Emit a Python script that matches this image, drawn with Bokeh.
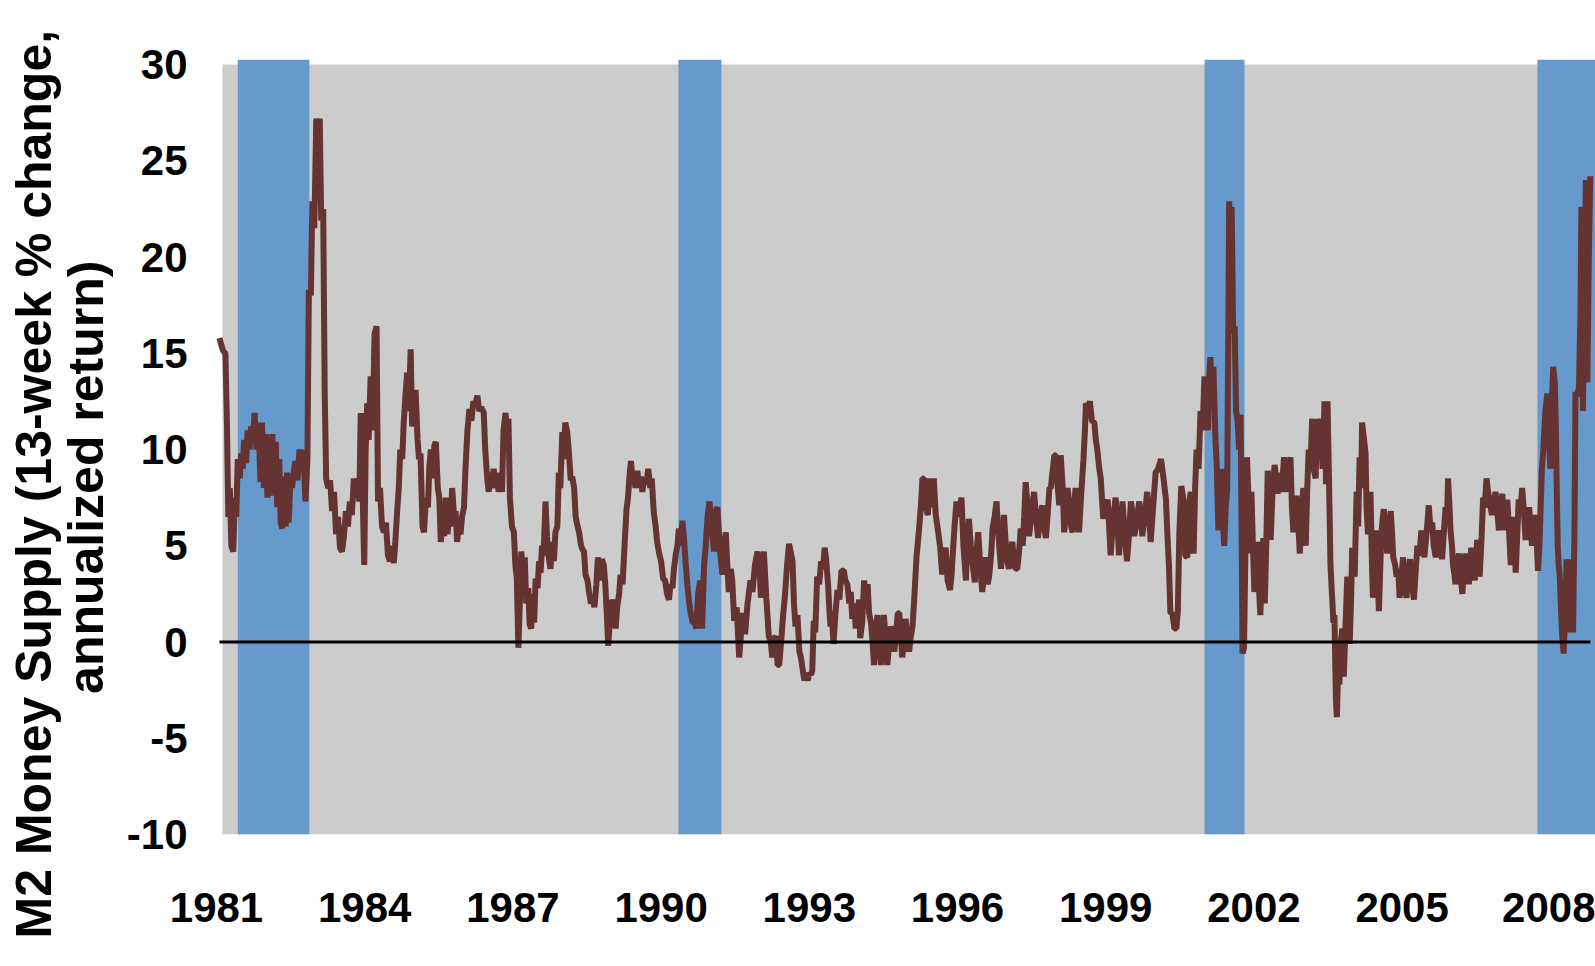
from bokeh.plotting import figure
from bokeh.models import FixedTicker
from bokeh.embed import file_html
from bokeh.resources import INLINE

# ---- data (weekly M2 13-week % change, annualized) ----
week = [
    1981.06, 1981.10, 1981.14, 1981.18, 1981.21, 1981.24, 1981.27, 1981.30, 1981.34, 1981.37,
    1981.40, 1981.43, 1981.47, 1981.50, 1981.53, 1981.56, 1981.60, 1981.63, 1981.67, 1981.70,
    1981.74, 1981.77, 1981.81, 1981.85, 1981.89, 1981.92, 1981.96, 1982.00, 1982.03, 1982.06,
    1982.10, 1982.13, 1982.17, 1982.20, 1982.23, 1982.27, 1982.30, 1982.33, 1982.36, 1982.40,
    1982.43, 1982.46, 1982.50, 1982.53, 1982.57, 1982.60, 1982.64, 1982.68, 1982.72, 1982.76,
    1982.80, 1982.84, 1982.87, 1982.91, 1982.94, 1982.98, 1983.02, 1983.06, 1983.09, 1983.12,
    1983.16, 1983.19, 1983.22, 1983.26, 1983.30, 1983.34, 1983.38, 1983.42, 1983.46, 1983.50,
    1983.54, 1983.58, 1983.62, 1983.66, 1983.70, 1983.74, 1983.78, 1983.82, 1983.86, 1983.89,
    1983.92, 1983.96, 1983.99, 1984.02, 1984.05, 1984.08, 1984.12, 1984.16, 1984.20, 1984.24,
    1984.27, 1984.31, 1984.35, 1984.39, 1984.43, 1984.47, 1984.51, 1984.55, 1984.59, 1984.62,
    1984.66, 1984.69, 1984.72, 1984.76, 1984.79, 1984.83, 1984.86, 1984.89, 1984.93, 1984.96,
    1985.00, 1985.03, 1985.07, 1985.10, 1985.13, 1985.17, 1985.20, 1985.24, 1985.28, 1985.31,
    1985.34, 1985.38, 1985.41, 1985.44, 1985.48, 1985.51, 1985.54, 1985.58, 1985.61, 1985.64,
    1985.68, 1985.71, 1985.74, 1985.77, 1985.81, 1985.84, 1985.87, 1985.90, 1985.94, 1985.97,
    1986.01, 1986.04, 1986.08, 1986.12, 1986.16, 1986.20, 1986.24, 1986.28, 1986.32, 1986.36,
    1986.41, 1986.44, 1986.48, 1986.51, 1986.54, 1986.58, 1986.61, 1986.64, 1986.68, 1986.71,
    1986.75, 1986.78, 1986.81, 1986.85, 1986.88, 1986.91, 1986.94, 1986.98, 1987.02, 1987.05,
    1987.08, 1987.11, 1987.14, 1987.17, 1987.20, 1987.24, 1987.27, 1987.31, 1987.34, 1987.37,
    1987.40, 1987.43, 1987.46, 1987.50, 1987.53, 1987.56, 1987.59, 1987.62, 1987.66, 1987.69,
    1987.72, 1987.76, 1987.79, 1987.83, 1987.86, 1987.90, 1987.93, 1987.96, 1988.00, 1988.03,
    1988.06, 1988.10, 1988.13, 1988.17, 1988.20, 1988.24, 1988.27, 1988.31, 1988.34, 1988.38,
    1988.41, 1988.44, 1988.47, 1988.51, 1988.54, 1988.58, 1988.62, 1988.65, 1988.69, 1988.72,
    1988.76, 1988.80, 1988.84, 1988.87, 1988.90, 1988.93, 1988.96, 1988.99, 1989.02, 1989.05,
    1989.08, 1989.11, 1989.15, 1989.18, 1989.22, 1989.26, 1989.30, 1989.33, 1989.36, 1989.39,
    1989.42, 1989.45, 1989.48, 1989.52, 1989.55, 1989.59, 1989.62, 1989.66, 1989.70, 1989.74,
    1989.78, 1989.81, 1989.85, 1989.89, 1989.92, 1989.96, 1990.00, 1990.04, 1990.08, 1990.12,
    1990.16, 1990.19, 1990.23, 1990.26, 1990.30, 1990.33, 1990.36, 1990.40, 1990.43, 1990.46,
    1990.50, 1990.53, 1990.57, 1990.60, 1990.64, 1990.68, 1990.71, 1990.75, 1990.79, 1990.83,
    1990.87, 1990.90, 1990.94, 1990.98, 1991.02, 1991.07, 1991.10, 1991.14, 1991.19, 1991.24,
    1991.28, 1991.31, 1991.34, 1991.37, 1991.41, 1991.44, 1991.48, 1991.53, 1991.58, 1991.62,
    1991.66, 1991.70, 1991.75, 1991.81, 1991.85, 1991.90, 1991.95, 1992.00, 1992.02, 1992.05,
    1992.08, 1992.13, 1992.18, 1992.22, 1992.25, 1992.29, 1992.32, 1992.36, 1992.39, 1992.43,
    1992.47, 1992.51, 1992.55, 1992.59, 1992.63, 1992.66, 1992.69, 1992.72, 1992.76, 1992.80,
    1992.83, 1992.87, 1992.90, 1992.93, 1992.97, 1993.00, 1993.03, 1993.06, 1993.09, 1993.12,
    1993.16, 1993.20, 1993.24, 1993.28, 1993.31, 1993.34, 1993.38, 1993.41, 1993.43, 1993.46,
    1993.49, 1993.53, 1993.57, 1993.61, 1993.65, 1993.70, 1993.73, 1993.77, 1993.81, 1993.84,
    1993.87, 1993.91, 1993.94, 1993.97, 1994.01, 1994.03, 1994.07, 1994.11, 1994.15, 1994.18,
    1994.21, 1994.25, 1994.28, 1994.31, 1994.34, 1994.38, 1994.41, 1994.45, 1994.48, 1994.51,
    1994.55, 1994.58, 1994.62, 1994.65, 1994.69, 1994.72, 1994.76, 1994.79, 1994.82, 1994.85,
    1994.88, 1994.92, 1994.95, 1994.98, 1995.02, 1995.05, 1995.09, 1995.13, 1995.17, 1995.21,
    1995.26, 1995.29, 1995.32, 1995.36, 1995.40, 1995.44, 1995.48, 1995.52, 1995.56, 1995.61,
    1995.65, 1995.69, 1995.72, 1995.76, 1995.80, 1995.85, 1995.88, 1995.90, 1995.94, 1995.98,
    1996.02, 1996.05, 1996.08, 1996.12, 1996.17, 1996.20, 1996.23, 1996.27, 1996.31, 1996.35,
    1996.38, 1996.42, 1996.46, 1996.50, 1996.54, 1996.57, 1996.61, 1996.64, 1996.68, 1996.71,
    1996.75, 1996.79, 1996.83, 1996.88, 1996.91, 1996.94, 1996.98, 1997.01, 1997.04, 1997.08,
    1997.11, 1997.15, 1997.18, 1997.21, 1997.25, 1997.28, 1997.32, 1997.35, 1997.38, 1997.42,
    1997.45, 1997.49, 1997.52, 1997.55, 1997.59, 1997.63, 1997.67, 1997.72, 1997.75, 1997.79,
    1997.83, 1997.86, 1997.89, 1997.93, 1997.96, 1997.99, 1998.03, 1998.06, 1998.09, 1998.13,
    1998.16, 1998.20, 1998.23, 1998.27, 1998.30, 1998.33, 1998.36, 1998.39, 1998.43, 1998.46,
    1998.50, 1998.55, 1998.58, 1998.60, 1998.64, 1998.68, 1998.72, 1998.77, 1998.80, 1998.83,
    1998.87, 1998.90, 1998.95, 1998.99, 1999.04, 1999.07, 1999.10, 1999.14, 1999.17, 1999.20,
    1999.24, 1999.27, 1999.31, 1999.34, 1999.38, 1999.43, 1999.47, 1999.51, 1999.55, 1999.58,
    1999.63, 1999.68, 1999.71, 1999.74, 1999.79, 1999.84, 1999.88, 1999.91, 1999.96, 2000.01,
    2000.06, 2000.12, 2000.17, 2000.22, 2000.25, 2000.28, 2000.31, 2000.35, 2000.39, 2000.43,
    2000.46, 2000.49, 2000.53, 2000.57, 2000.61, 2000.65, 2000.68, 2000.72, 2000.75, 2000.78,
    2000.81, 2000.84, 2000.88, 2000.92, 2000.96, 2001.00, 2001.04, 2001.07, 2001.10, 2001.12,
    2001.15, 2001.18, 2001.22, 2001.25, 2001.28, 2001.31, 2001.34, 2001.37, 2001.40, 2001.43,
    2001.46, 2001.50, 2001.53, 2001.55, 2001.58, 2001.61, 2001.64, 2001.67, 2001.70, 2001.73,
    2001.75, 2001.77, 2001.80, 2001.83, 2001.86, 2001.89, 2001.92, 2001.95, 2001.98, 2002.01,
    2002.04, 2002.07, 2002.10, 2002.13, 2002.16, 2002.19, 2002.22, 2002.25, 2002.28, 2002.31,
    2002.34, 2002.38, 2002.42, 2002.45, 2002.48, 2002.52, 2002.55, 2002.58, 2002.61, 2002.64,
    2002.67, 2002.71, 2002.74, 2002.77, 2002.80, 2002.83, 2002.86, 2002.90, 2002.93, 2002.96,
    2003.00, 2003.03, 2003.05, 2003.08, 2003.11, 2003.15, 2003.18, 2003.21, 2003.25, 2003.28,
    2003.32, 2003.35, 2003.39, 2003.43, 2003.46, 2003.49, 2003.52, 2003.55, 2003.58, 2003.61,
    2003.63, 2003.66, 2003.68, 2003.71, 2003.73, 2003.76, 2003.79, 2003.82, 2003.85, 2003.89,
    2003.92, 2003.94, 2003.97, 2003.99, 2004.02, 2004.04, 2004.08, 2004.11, 2004.14, 2004.17,
    2004.19, 2004.23, 2004.26, 2004.28, 2004.31, 2004.34, 2004.36, 2004.39, 2004.41, 2004.45,
    2004.48, 2004.51, 2004.53, 2004.56, 2004.58, 2004.61, 2004.63, 2004.67, 2004.70, 2004.73,
    2004.77, 2004.80, 2004.82, 2004.86, 2004.89, 2004.92, 2004.95, 2004.99, 2005.02, 2005.05,
    2005.09, 2005.12, 2005.16, 2005.20, 2005.24, 2005.27, 2005.31, 2005.35, 2005.39, 2005.42,
    2005.45, 2005.49, 2005.54, 2005.57, 2005.61, 2005.64, 2005.68, 2005.71, 2005.74, 2005.78,
    2005.81, 2005.84, 2005.88, 2005.91, 2005.93, 2005.96, 2005.98, 2006.01, 2006.03, 2006.06,
    2006.08, 2006.12, 2006.15, 2006.18, 2006.22, 2006.25, 2006.28, 2006.32, 2006.35, 2006.38,
    2006.40, 2006.44, 2006.47, 2006.50, 2006.52, 2006.55, 2006.57, 2006.61, 2006.64, 2006.67,
    2006.71, 2006.73, 2006.76, 2006.79, 2006.82, 2006.86, 2006.89, 2006.92, 2006.96, 2006.99,
    2007.03, 2007.05, 2007.07, 2007.10, 2007.13, 2007.17, 2007.20, 2007.23, 2007.25, 2007.28,
    2007.30, 2007.33, 2007.36, 2007.40, 2007.43, 2007.46, 2007.50, 2007.53, 2007.57, 2007.60,
    2007.63, 2007.67, 2007.70, 2007.73, 2007.75, 2007.78, 2007.80, 2007.83, 2007.86, 2007.90,
    2007.94, 2007.97, 2008.00, 2008.03, 2008.06, 2008.09, 2008.11, 2008.13, 2008.15, 2008.17,
    2008.19, 2008.22, 2008.24, 2008.27, 2008.30, 2008.33, 2008.35, 2008.38, 2008.40, 2008.42,
    2008.44, 2008.46, 2008.49, 2008.51, 2008.54, 2008.58, 2008.61, 2008.63, 2008.66, 2008.69,
    2008.72, 2008.75, 2008.78, 2008.81,
]

m2_growth = [
    15.8, 15.4, 15.1, 15.0, 11.5, 6.5, 8.0, 5.0, 4.7, 7.5,
    6.5, 9.5, 8.5, 9.8, 9.0, 10.5, 9.3, 11.0, 10.0, 11.2,
    10.4, 11.9, 10.0, 11.4, 8.3, 11.4, 8.0, 10.8, 7.5, 10.6,
    7.6, 10.8, 8.0, 10.4, 7.0, 9.5, 6.2, 5.9, 8.6, 6.0,
    8.8, 6.2, 8.6, 8.0, 9.0, 9.4, 8.4, 10.0, 9.0, 10.0,
    7.3, 9.5, 18.3, 18.0, 22.9, 21.5, 27.2, 24.0, 27.2, 21.9,
    22.5, 13.0, 8.5, 8.0, 8.4, 6.8, 7.8, 5.6, 6.5, 4.9,
    4.7, 5.5, 6.8, 6.0, 7.3, 6.6, 8.5, 7.5, 8.5, 7.3,
    11.9, 7.5, 4.0, 10.0, 12.4, 10.5, 13.8, 11.0, 16.0, 16.4,
    7.3, 8.0, 6.0, 5.7, 6.2, 4.5, 4.2, 5.0, 4.1, 5.2,
    6.9, 8.0, 10.0, 9.5, 11.4, 13.0, 14.0, 12.0, 15.2, 11.2,
    12.5, 13.1, 10.5, 9.5, 9.8, 6.0, 5.7, 7.5, 7.0, 9.2,
    10.0, 8.5, 10.2, 10.4, 8.0, 7.5, 5.2, 6.5, 5.5, 7.5,
    5.6, 7.3, 6.0, 8.0, 6.5, 6.8, 5.2, 6.0, 5.6, 6.5,
    7.0, 9.0, 11.0, 12.1, 11.5, 12.5, 12.3, 12.8, 12.0, 12.2,
    11.9, 10.0, 8.5, 7.8, 8.8, 8.0, 9.0, 8.0, 8.8, 7.8,
    8.5, 7.8, 11.0, 11.9, 11.0, 11.6, 7.5, 6.0, 5.7, 4.0,
    3.3, -0.3, 2.0, 4.7, 3.5, 4.4, 2.0, 2.8, 0.9, 0.7,
    2.5, 1.0, 3.3, 2.8, 4.2, 3.6, 5.0, 4.5, 7.3, 5.5,
    4.5, 3.8, 5.2, 4.2, 5.7, 6.0, 8.8, 8.0, 10.9, 9.5,
    11.4, 10.9, 10.0, 8.4, 8.6, 8.0, 6.5, 6.0, 5.7, 5.0,
    4.8, 4.7, 3.5, 3.2, 2.6, 2.0, 2.3, 1.8, 3.0, 4.4,
    3.2, 4.3, 4.0, 3.0, 1.5, -0.2, 1.0, 2.2, 1.5, 2.2,
    0.7, 1.8, 2.5, 3.5, 3.0, 5.0, 6.9, 7.5, 8.6, 9.4,
    8.5, 8.8, 8.0, 8.9, 8.0, 8.6, 7.8, 8.5, 8.2, 9.0,
    8.0, 8.5, 6.8, 6.0, 5.2, 4.6, 4.2, 3.3, 3.2, 2.5,
    2.2, 3.0, 2.8, 3.8, 4.6, 5.0, 5.9, 5.0, 6.3, 5.5,
    4.0, 3.0, 2.0, 1.5, 1.0, 1.0, 0.7, 2.5, 3.2, 0.7,
    4.0, 4.9, 6.5, 7.3, 6.0, 4.7, 6.8, 7.0, 4.8, 3.5,
    5.0, 5.7, 4.0, 2.6, 3.8, 3.2, 1.1, 1.8, -0.8, 0.5,
    1.5, 0.4, 2.0, 3.2, 2.6, 4.0, 4.7, 3.5, 2.3, 3.5,
    4.7, 2.3, 0.3, 0.0, -0.8, 0.2, 0.3, -1.2, -1.2, 0.0,
    1.4, 2.5, 4.0, 5.1, 4.6, 4.2, 2.0, 0.8, 1.4, -0.5,
    -0.8, -1.5, -2.0, -1.6, -2.0, -1.6, -1.7, -1.5, 1.1, 0.5,
    3.4, 3.0, 4.2, 3.8, 4.9, 4.3, 3.0, 1.5, 0.8, 1.2,
    -0.1, 1.5, 2.7, 2.2, 3.7, 3.7, 3.2, 3.0, 2.0, 2.6,
    1.2, 2.0, 0.7, 1.5, 2.2, 0.2, 1.0, 3.2, 2.0, 3.0,
    1.5, 1.0, 0.0, -1.2, 0.5, 1.4, 0.0, -1.2, 0.5, 1.4,
    0.0, -1.2, 0.2, 0.8, 0.5, -0.5, 0.5, 1.5, 1.5, 0.5,
    -0.8, 0.0, 1.2, 0.5, -0.5, 0.2, 0.8, 2.5, 4.4, 5.5,
    7.1, 8.5, 8.5, 7.0, 6.6, 8.5, 7.0, 8.5, 6.6, 5.7,
    4.9, 3.5, 4.5, 4.9, 3.2, 2.7, 3.5, 4.4, 6.0, 7.3,
    6.5, 7.0, 7.5, 5.0, 3.2, 5.0, 6.4, 5.0, 4.0, 3.1,
    4.5, 5.7, 4.0, 2.6, 3.5, 4.4, 3.0, 3.4, 4.5, 5.9,
    6.5, 7.3, 5.5, 3.8, 5.0, 6.6, 5.0, 4.2, 3.8, 4.8,
    5.2, 4.0, 3.8, 3.8, 4.8, 5.9, 5.0, 6.5, 8.3, 7.0,
    5.5, 6.5, 7.2, 7.8, 6.5, 5.4, 6.5, 7.1, 6.0, 5.4,
    6.8, 8.0, 8.0, 9.0, 9.7, 9.7, 8.0, 7.1, 9.7, 8.0,
    5.7, 7.0, 8.0, 7.0, 6.0, 5.7, 7.0, 8.0, 6.5, 5.7,
    7.5, 9.5, 11.0, 12.4, 12.2, 12.5, 11.5, 11.4, 10.5, 10.0,
    9.0, 8.5, 6.4, 7.0, 7.4, 6.0, 4.5, 6.0, 6.8, 7.5,
    6.0, 4.5, 6.0, 7.3, 5.8, 4.2, 5.5, 7.3, 6.5, 5.5,
    6.4, 7.3, 6.5, 5.5, 6.5, 7.8, 6.5, 5.2, 7.0, 8.8,
    9.0, 9.5, 8.5, 7.4, 5.5, 4.0, 1.5, 1.5, 0.7, 0.7,
    1.6, 5.6, 8.1, 7.5, 4.5, 4.4, 7.0, 7.8, 5.0, 4.6,
    8.0, 10.0, 9.0, 12.0, 11.0, 13.8, 12.0, 11.0, 14.0, 14.8,
    12.5, 14.3, 10.7, 9.0, 5.8, 7.0, 9.0, 6.5, 5.0, 7.0,
    8.0, 22.9, 20.0, 22.6, 16.0, 16.4, 12.0, 11.5, 10.0, 11.8,
    6.0, -0.6, -0.3, 5.0, 9.6, 7.5, 4.6, 7.8, 5.0, 2.6,
    4.0, 5.2, 3.0, 1.4, 3.5, 5.4, 2.0, 5.0, 8.9, 7.5,
    5.3, 8.0, 9.2, 8.5, 7.7, 8.8, 7.8, 8.5, 9.6, 8.5,
    7.8, 9.0, 9.6, 7.0, 5.7, 6.5, 7.6, 6.0, 4.6, 6.5,
    8.0, 6.0, 5.0, 8.0, 10.0, 9.5, 11.6, 9.0, 8.5, 11.6,
    10.0, 11.6, 9.0, 12.5, 8.2, 12.5, 8.5, 4.0, 2.5, 1.0,
    1.4, -3.0, -3.9, -1.0, -2.2, 0.0, 0.7, -1.8, 0.5, 3.4,
    1.0, -0.1, 2.5, 4.9, 3.8, 3.4, 7.8, 6.0, 9.6, 8.0,
    11.4, 10.5, 9.8, 7.0, 5.6, 6.0, 7.8, 4.0, 2.3, 4.5,
    5.8, 3.0, 1.6, 4.0, 5.6, 6.5, 6.9, 5.5, 4.6, 5.8,
    6.8, 5.5, 4.4, 4.0, 3.4, 3.8, 2.3, 3.5, 4.4, 3.0,
    2.3, 3.5, 4.3, 3.0, 2.2, 3.5, 5.0, 4.5, 5.8, 5.0,
    4.4, 5.5, 7.1, 6.0, 6.2, 5.0, 4.4, 5.0, 5.8, 5.0,
    4.3, 5.5, 7.0, 6.5, 8.5, 7.0, 5.8, 5.0, 4.0, 3.5,
    3.0, 4.0, 4.6, 3.5, 2.5, 3.8, 4.6, 3.8, 3.0, 4.0,
    4.9, 4.0, 3.2, 4.5, 5.3, 4.0, 3.4, 5.5, 7.5, 7.0,
    8.5, 8.0, 7.5, 7.0, 6.6, 7.2, 7.8, 7.0, 5.8, 7.0,
    7.7, 6.5, 5.8, 6.8, 7.4, 5.5, 4.0, 5.5, 6.5, 5.0,
    3.6, 5.5, 7.4, 7.0, 8.0, 7.0, 5.3, 6.0, 7.0, 6.0,
    5.0, 6.0, 6.6, 5.0, 3.7, 5.0, 6.6, 9.0, 10.0, 12.0,
    12.9, 11.0, 9.0, 12.5, 14.3, 13.5, 11.5, 8.0, 5.0, 4.0,
    3.5, 1.5, 0.3, -0.6, 1.5, 4.3, 2.0, 0.5, 2.5, 4.3,
    2.0, 0.5, 6.0, 13.0, 12.8, 13.2, 17.0, 22.6, 12.0, 18.0,
    24.0, 13.5, 20.0, 24.2,
]

year_ticks = [1981, 1984, 1987, 1990, 1993, 1996, 1999, 2002, 2005, 2008]
value_ticks = [-10, -5, 0, 5, 10, 15, 20, 25, 30]
recession_start = [1981.43, 1990.35, 2001.00, 2007.74]
recession_end = [1982.88, 1991.22, 2001.81, 2009.50]
panel_start = 1981.12
# trailing no-break spaces move each line's visible centre a little down,
# as in the original where the title sits below the middle of the plot area
title_line1 = "M2 Money Supply (13-week % change," + "\u00a0" * 6
title_line2 = "annualized return)" + "\u00a0" * 5

assert len(week) == len(m2_growth)

FONT = "Liberation Sans"

p = figure(width=1595, height=964,
           x_range=(1980.676, 2008.915), y_range=(-10, 30.73),
           output_backend="svg", toolbar_location=None,
           min_border_left=200, min_border_right=0,
           min_border_top=50, min_border_bottom=130)
p.background_fill_color = "white"
p.border_fill_color = "white"
p.outline_line_color = None
p.xgrid.visible = False
p.ygrid.visible = False

# plot-area panel and recession bands
p.quad(left=[panel_start], right=[recession_end[-1]],
       bottom=[value_ticks[0]], top=[value_ticks[-1]],
       fill_color="#CCCCCC", line_color=None)
p.quad(left=recession_start, right=recession_end,
       bottom=[value_ticks[0]] * len(recession_start),
       top=[value_ticks[-1] + 0.25] * len(recession_start),
       fill_color="#6699CC", line_color=None)

# series
p.line(week, m2_growth, line_color="#663333", line_width=6)

# zero line
p.segment(x0=[week[0]], y0=[0], x1=[week[-1]], y1=[0],
          line_color="black", line_width=3)

# axes
for ax in (p.xaxis[0], p.yaxis[0]):
    ax.axis_line_color = None
    ax.major_tick_line_color = None
    ax.minor_tick_line_color = None
    ax.major_tick_out = 0
    ax.major_tick_in = 0
    ax.minor_tick_out = 0
    ax.minor_tick_in = 0
    ax.major_label_text_font = FONT
    ax.major_label_text_font_style = "bold"
    ax.major_label_text_font_size = "42px"
    ax.major_label_text_color = "black"

p.xaxis.ticker = FixedTicker(ticks=year_ticks)
p.xaxis.major_label_overrides = {y: str(y) for y in year_ticks}
p.xaxis.major_label_standoff = 58
p.yaxis.ticker = FixedTicker(ticks=value_ticks)
p.yaxis.major_label_overrides = {v: str(v) for v in value_ticks}
p.yaxis.major_label_standoff = 13

# two-line rotated y-axis title
p.yaxis.axis_label = title_line1 + "\n" + title_line2
p.yaxis.axis_label_text_font = FONT
p.yaxis.axis_label_text_font_style = "bold"
p.yaxis.axis_label_text_font_size = "50px"
p.yaxis.axis_label_text_line_height = 0.93
p.yaxis.axis_label_text_color = "black"
p.yaxis.axis_label_standoff = 10

open("out.html", "w").write(file_html(p, INLINE))
